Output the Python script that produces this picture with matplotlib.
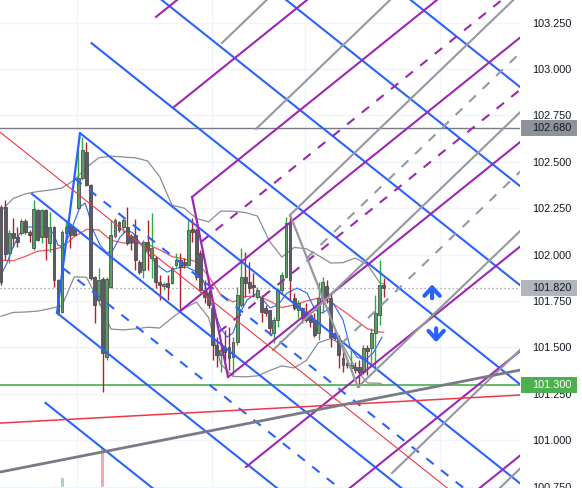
import numpy as np
import matplotlib
matplotlib.use('Agg')
import matplotlib.pyplot as plt
from matplotlib.patches import Rectangle
from matplotlib.ticker import FormatStrFormatter

plt.rcParams['font.family'] = ['Liberation Sans', 'DejaVu Sans']

# ---- OHLC, one entry per bar (bar index = x) ----
open_ = [102.257, 102.257, 102.009, 102.117, 102.095, 102.117, 102.181, 102.122, 102.036, 102.240,
         102.095, 102.240, 102.063, 102.149, 101.863, 101.691, 102.117, 102.160, 102.143, 102.251,
         102.413, 102.553, 102.375, 101.879, 101.756, 101.869, 101.448, 101.826, 102.100, 102.176,
         102.149, 102.149, 102.100, 102.106, 101.960, 101.917, 102.068, 101.982, 101.982, 101.853,
         101.831, 101.847, 101.847, 101.944, 101.971, 101.960, 101.944, 102.138, 102.133, 102.009,
         101.810, 101.793, 101.713, 101.513, 101.459, 101.502, 101.502, 101.448, 101.529, 101.729,
         101.879, 101.853, 101.836, 101.772, 101.766, 101.713, 101.702, 101.578, 101.648, 101.810,
         101.879, 102.170, 101.766, 101.702, 101.713, 101.691, 101.675, 101.648, 101.578, 101.772,
         101.831, 101.766, 101.578, 101.551, 101.443, 101.416, 101.389, 101.395, 101.395, 101.368,
         101.497, 101.497, 101.578, 101.675, 101.836]
high = [102.267, 102.294, 102.133, 102.197, 102.149, 102.192, 102.192, 102.133, 102.294, 102.246,
        102.246, 102.246, 102.230, 102.154, 101.869, 102.133, 102.176, 102.170, 102.154, 102.564,
        102.634, 102.607, 102.381, 101.885, 101.928, 101.879, 101.879, 102.187, 102.197, 102.181,
        102.197, 102.257, 102.111, 102.192, 101.971, 102.079, 102.187, 102.224, 101.993, 101.890,
        101.853, 101.890, 101.939, 102.009, 102.009, 101.982, 102.187, 102.197, 102.143, 102.025,
        101.863, 101.810, 101.723, 101.556, 101.524, 101.594, 101.610, 101.556, 101.826, 102.036,
        102.014, 101.960, 101.901, 101.826, 101.783, 101.729, 101.702, 101.664, 101.820, 101.906,
        102.203, 102.214, 101.793, 101.756, 101.718, 101.739, 101.691, 101.686, 101.853, 101.879,
        101.863, 101.793, 101.594, 101.567, 101.475, 101.432, 101.486, 101.422, 101.432, 101.513,
        101.513, 101.605, 101.783, 101.971, 101.874]
low = [101.836, 101.971, 101.955, 102.041, 102.041, 102.106, 102.111, 102.068, 102.025, 102.074,
       102.063, 101.971, 102.014, 101.826, 101.675, 101.686, 102.095, 102.036, 102.100, 102.246,
       102.402, 102.370, 101.863, 101.632, 101.729, 101.260, 101.432, 101.820, 102.090, 102.122,
       102.117, 102.052, 102.025, 101.917, 101.896, 101.874, 101.917, 101.874, 101.820, 101.756,
       101.810, 101.756, 101.842, 101.933, 101.702, 101.928, 101.939, 102.068, 101.863, 101.799,
       101.739, 101.713, 101.432, 101.395, 101.368, 101.432, 101.378, 101.352, 101.513, 101.718,
       101.772, 101.793, 101.772, 101.761, 101.637, 101.669, 101.567, 101.524, 101.610, 101.793,
       101.874, 101.756, 101.702, 101.659, 101.632, 101.637, 101.610, 101.556, 101.540, 101.686,
       101.739, 101.502, 101.540, 101.389, 101.368, 101.389, 101.378, 101.362, 101.287, 101.357,
       101.352, 101.405, 101.378, 101.621, 101.772]
close = [101.853, 102.004, 102.117, 102.090, 102.068, 102.181, 102.122, 102.106, 102.246, 102.079,
         102.240, 102.095, 102.149, 101.863, 101.686, 102.122, 102.149, 102.106, 102.106, 102.413,
         102.564, 102.375, 101.874, 101.729, 101.863, 101.470, 101.869, 102.106, 102.187, 102.133,
         102.187, 102.063, 102.068, 101.971, 101.906, 102.068, 102.025, 102.036, 101.853, 101.836,
         101.842, 101.826, 101.928, 101.971, 101.933, 101.944, 102.133, 102.122, 101.879, 101.810,
         101.772, 101.729, 101.513, 101.459, 101.486, 101.475, 101.443, 101.529, 101.783, 101.879,
         101.847, 101.820, 101.826, 101.810, 101.691, 101.686, 101.605, 101.648, 101.810, 101.890,
         102.170, 101.863, 101.713, 101.739, 101.659, 101.648, 101.637, 101.567, 101.766, 101.853,
         101.766, 101.556, 101.551, 101.459, 101.405, 101.405, 101.405, 101.378, 101.368, 101.497,
         101.481, 101.578, 101.686, 101.836, 101.820]
volume = [5, 6, 4, 4, 3, 4, 3, 3, 6, 5, 4, 5, 4, 7, 8, 11.0, 4, 4, 3, 8,
          8, 7, 9, 8, 6, 14.1, 9, 7, 4, 3, 3, 5, 3, 5, 3, 5, 4, 5, 5, 3,
          2, 3, 3, 3, 5, 2, 6, 3, 6, 5, 3, 3, 8, 4, 4, 4, 5, 5, 7, 6,
          4, 3, 3, 2, 4, 2, 4, 4, 5, 4, 9, 8, 3, 3, 3, 3, 3, 4, 6, 5,
          4, 6, 2, 5, 3, 2, 3, 2, 4, 4, 3, 3, 5, 6, 3]

# ---- indicators ----
band_bars = [0, 3, 6, 9, 12, 15, 18, 21, 24, 27, 30, 33, 36, 39, 42, 45, 48,
             51, 54, 57, 60, 63, 66, 69, 72, 75, 78, 81, 84, 87, 90, 93, 94]
upper_band = [102.236, 102.303, 102.328, 102.340, 102.348, 102.359, 102.402, 102.470, 102.522,
              102.531, 102.526, 102.522, 102.505, 102.420, 102.266, 102.251, 102.195, 102.177,
              102.235, 102.234, 102.227, 102.208, 102.071, 101.987, 102.039, 102.032, 101.995,
              101.955, 101.957, 101.982, 101.948, 101.850, 101.842]
lower_band = [101.668, 101.689, 101.691, 101.696, 101.709, 101.725, 101.881, 101.878, 101.750,
              101.599, 101.595, 101.600, 101.609, 101.605, 101.660, 101.709, 101.745, 101.661,
              101.410, 101.344, 101.342, 101.347, 101.376, 101.401, 101.390, 101.430, 101.526,
              101.548, 101.513, 101.391, 101.309, 101.307, 101.298]
mid_ma = [101.970, 101.967, 101.991, 102.019, 102.025, 102.040, 102.097, 102.136, 102.134,
          102.078, 102.063, 102.063, 102.056, 102.026, 101.990, 101.976, 101.964, 101.883,
          101.784, 101.745, 101.774, 101.778, 101.750, 101.715, 101.730, 101.750, 101.766,
          101.745, 101.699, 101.650, 101.601, 101.583, 101.583]
fast_bars = [-0.25, 1.47, 2.95, 4.67, 6.39, 8.85, 11.30, 12.78, 14.00, 15.23, 16.46, 18.18,
             19.41, 20.64, 21.38, 22.60, 24.32, 26.04, 27.52, 29.24, 30.96, 32.43, 34.15,
             35.87, 38.33, 40.79, 43.24, 45.70, 48.16, 49.63, 51.35, 53.81, 55.53, 57.00,
             58.72, 60.44, 62.90, 64.37, 66.09, 68.06, 70.27, 72.73, 75.18, 77.15, 78.87,
             80.10, 81.57, 84.03, 85.75, 87.47, 89.43, 91.40, 93.61]
fast_ma = [101.880, 101.955, 102.041, 102.117, 102.149, 102.149, 102.149, 102.117, 102.052,
           102.041, 102.090, 102.187, 102.257, 102.278, 102.230, 102.133, 102.052, 102.009,
           102.025, 102.095, 102.133, 102.117, 102.063, 102.014, 101.944, 101.906, 101.928,
           101.933, 101.906, 101.863, 101.756, 101.610, 101.556, 101.578, 101.686, 101.756,
           101.793, 101.756, 101.713, 101.729, 101.793, 101.820, 101.793, 101.702, 101.686,
           101.702, 101.739, 101.648, 101.502, 101.448, 101.432, 101.470, 101.556]

# ---- drawings ----
# pitchforks: P1 (handle), P2, P3 as (bar, price)
blue_fork = [(7.62, 102.327), (19.41, 102.655), (13.76, 101.686)]
purple_fork = [(43.98, 101.696), (46.93, 102.311), (55.77, 101.341)]
gray_fork = [(66.83, 101.486), (71.01, 102.214), (87.71, 101.287)]
blue_levels = [-2, -1, 0, 1, 2, 3, 4, 5]
purple_levels = [-4, -3, -2, -1, 0, 1, 2, 3]
gray_levels = [-3, -2, -1, 0, 1, 2, 3]
half_levels = [-0.5, 0.5]

# extended trend lines, two anchors each
red_trend = [(0, 102.656), (100, 100.911)]
red_flat = [(0, 101.093), (120, 101.235)]
gray_trend = [(0, 100.830), (120, 101.346)]

hline_gray = 102.680
hline_green = 101.300
last_price = 101.820
date_lines = [18.67, 51.84, 74.69, 107.86]
up_arrow = (105.9, 101.750, 101.855)
down_arrow = (106.9, 101.618, 101.513)

yticks = [100.75, 101.0, 101.25, 101.5, 101.75, 102.0, 102.25, 102.5, 102.75, 103.0, 103.25]

BLUE = '#2962ff'
PURPLE = '#9c27b0'
GRAY = '#9598a1'
XLIM = (-0.25, 127.5)
YLIM = (100.743, 103.372)

fig = plt.figure(figsize=(5.82, 4.88), dpi=100)
rect = [0, 0, 520 / 582, 1]

# volume pane underneath
axv = fig.add_axes(rect)
bars = np.arange(len(open_))
vcol = ['#9fd6d0' if c >= o else '#f6a8a8' for o, c in zip(open_, close)]
axv.bar(bars, volume, width=0.75, color=vcol)
axv.set_xlim(*XLIM)
axv.set_ylim(10, 60)
axv.axis('off')

ax = fig.add_axes(rect)
ax.patch.set_visible(False)
ax.set_xlim(*XLIM)
ax.set_ylim(*YLIM)
for s in ax.spines.values():
    s.set_visible(False)
ax.set_xticks([])
ax.set_yticks(yticks)
ax.yaxis.tick_right()
ax.yaxis.set_major_formatter(FormatStrFormatter('%.3f'))
ax.tick_params(axis='y', length=0, pad=8.6, labelsize=7.8, labelcolor='#131722')
ax.grid(axis='y', color='#f0f3fa', lw=1, zorder=0)
for d in date_lines:
    ax.axvline(d, color='#f0f3fa', lw=1, zorder=0)

# horizontal lines
ax.axhline(hline_gray, color='#787b86', lw=1, zorder=2)
ax.axhline(hline_green, color='#4caf50', lw=1.2, zorder=2)
ax.axhline(last_price, color='#9598a1', lw=0.9, ls=(0, (1, 2.2)), zorder=2)

# indicators
ax.plot(band_bars, upper_band, color='#8a8d96', lw=0.9, zorder=3)
ax.plot(band_bars, lower_band, color='#8a8d96', lw=0.9, zorder=3)
ax.plot(band_bars, mid_ma, color='#f7525f', lw=0.9, zorder=3)
ax.plot(fast_bars, fast_ma, color=BLUE, lw=0.8, zorder=3)

# candles
o = np.array(open_); h = np.array(high); l = np.array(low); c = np.array(close)
up = c >= o
wick_col = np.where(up, '#2eab3e', '#b51f2d')
ax.vlines(bars, l, h, colors=wick_col, lw=1, zorder=4)
body_lo = np.minimum(o, c)
body_h = np.maximum(np.abs(c - o), 0.005)
ax.bar(bars, body_h, bottom=body_lo, width=0.7,
       color=np.where(up, '#55a35c', '#5b5b63'), edgecolor='#4d4d55', lw=0.6, zorder=5)


def draw_fork(p1, p2, p3, color, levels, x_end=140):
    p1, p2, p3 = np.array(p1), np.array(p2), np.array(p3)
    mid = (p2 + p3) / 2
    d = mid - p1
    half = p2 - mid
    ax.plot([p2[0], p3[0]], [p2[1], p3[1]], color=color, lw=1.6, zorder=6,
            solid_capstyle='round')
    for lev in levels + half_levels:
        s = p1 if lev == 0 else mid + lev * half
        t = (x_end - s[0]) / d[0]
        e = s + t * d
        ls = '-' if lev in levels else (0, (4.5, 4.5))
        ax.plot([s[0], e[0]], [s[1], e[1]], color=color, lw=1.5, ls=ls, zorder=6)


draw_fork(*blue_fork, BLUE, blue_levels)
draw_fork(*purple_fork, PURPLE, purple_levels)
draw_fork(*gray_fork, GRAY, gray_levels)

ax.axline(*red_trend, color='#f23645', lw=0.8, zorder=6)
ax.axline(*red_flat, color='#f23645', lw=1.1, zorder=6)
ax.axline(*gray_trend, color='#787b86', lw=2, zorder=6)

# arrows
for xa, y0, y1 in (up_arrow, down_arrow):
    ax.annotate('', xy=(xa, y1), xytext=(xa, y0),
                arrowprops=dict(arrowstyle='->,head_length=0.6,head_width=0.55',
                                color=BLUE, lw=3), zorder=7)

# price tags on the scale
tr = ax.get_yaxis_transform()
tags = [(hline_gray, '#8f929b', '#131722'), (last_price, '#b2b5be', '#131722'),
        (hline_green, '#4caf50', 'white')]
box_h = 16 * (YLIM[1] - YLIM[0]) / 488
for price, bg, fg in tags:
    ax.add_patch(Rectangle((521 / 520, price - box_h / 2), 56 / 520, box_h, transform=tr,
                           facecolor=bg, edgecolor='none', clip_on=False, zorder=10))
    ax.text(532 / 520, price, '%.3f' % price, transform=tr, ha='left', va='center',
            fontsize=7.8, color=fg, clip_on=False, zorder=11)

fig.savefig('out.png', dpi=100)
